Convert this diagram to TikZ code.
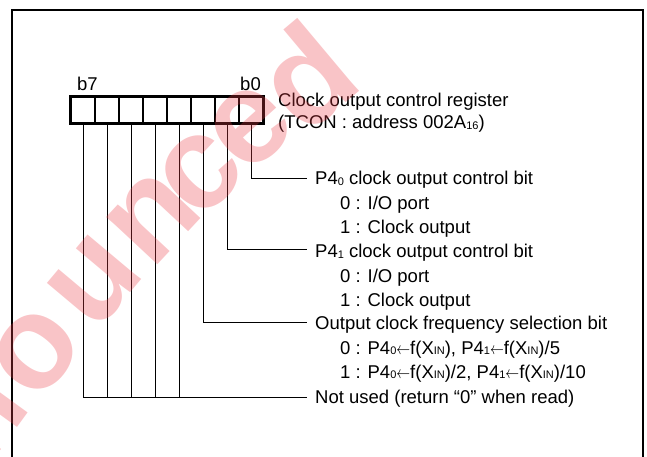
\documentclass[tikz,border=0pt]{standalone}
\usepackage{fontspec}
\usepackage{graphicx}
\setmainfont{Liberation Sans}
\newcommand\sbs[1]{\raisebox{-0.8pt}{\fontsize{11}{11}\selectfont #1}}
\newcommand\larr{\scalebox{0.8}[1]{$\leftarrow$}}
\definecolor{wm}{RGB}{235,60,70}
\begin{document}
\begin{tikzpicture}[x=1pt,y=-1pt,
  every node/.style={inner sep=0pt},
  lbl/.style={anchor=base west, font=\fontsize{18.5}{22}\selectfont},
  cell/.style={draw, line width=1.2pt, minimum width=24pt, minimum height=26pt},
  wire/.style={line width=0.8pt},
  wmark/.style={font=\fontsize{132}{132}\selectfont\bfseries, text=wm, text opacity=0.3}]
\useasboundingbox (0,0) rectangle (647,457);
% frame
\draw[line width=2.5pt] (12,458) -- (12,10) -- (643,10) -- (643,458);
% register
\foreach \i in {0,...,7} \node[cell] (c\i) at ({251-24*\i},110) {};
\draw[line width=2pt] (c7.north west) rectangle (c0.south east);
\node[lbl] (b7) at (77,91) {b7};
\node[lbl, anchor=base east] (b0) at (261,91) {b0};
% labels
\node[lbl] (reg1) at (278,107) {Clock output control register};
\node[lbl] (reg2) at (278,128.5) {(TCON : address 002A\sbs{16})};
\node[lbl] (l0) at (315,185) {P4\sbs{0} clock output control bit};
\node[lbl] (l0a) at (340,209) {0 : I/O port};
\node[lbl] (l0b) at (340,233) {1 : Clock output};
\node[lbl] (l1) at (315,257.5) {P4\sbs{1} clock output control bit};
\node[lbl] (l1a) at (340,282) {0 : I/O port};
\node[lbl] (l1b) at (340,306) {1 : Clock output};
\node[lbl] (l2) at (315,329.5) {Output clock frequency selection bit};
\node[lbl] (l2a) at (340,354) {0 : P4\sbs{0}\larr f(X\sbs{IN}), P4\sbs{1}\larr f(X\sbs{IN})/5};
\node[lbl] (l2b) at (340,378) {1 : P4\sbs{0}\larr f(X\sbs{IN})/2, P4\sbs{1}\larr f(X\sbs{IN})/10};
\node[lbl] (l3) at (315,403) {Not used (return “0” when read)};
% connector ends
\coordinate (e0) at (307,178);
\coordinate (e1) at (307,249.5);
\coordinate (e2) at (307,322);
\coordinate (e3) at (307,397);
\draw[wire] (c0.south) |- (e0);
\draw[wire] (c1.south) |- (e1);
\draw[wire] (c2.south) |- (e2);
\draw[wire] (c7.south) |- (e3);
\foreach \i in {3,...,6} \draw[wire] (c\i.south) -- (c\i.south |- e3);
% watermark
\node[wmark, rotate=54] (w0) at (-20,418) {n};
\node[wmark, rotate=52] (w1) at (36,352) {o};
\node[wmark, rotate=50] (w2) at (95,282) {u};
\node[wmark, rotate=47] (w3) at (153,218) {n};
\node[wmark, rotate=44] (w4) at (201,173) {c};
\node[wmark, rotate=42] (w5) at (250,127) {e};
\node[wmark, rotate=40] (w6) at (305,75) {d};
\end{tikzpicture}
\end{document}
